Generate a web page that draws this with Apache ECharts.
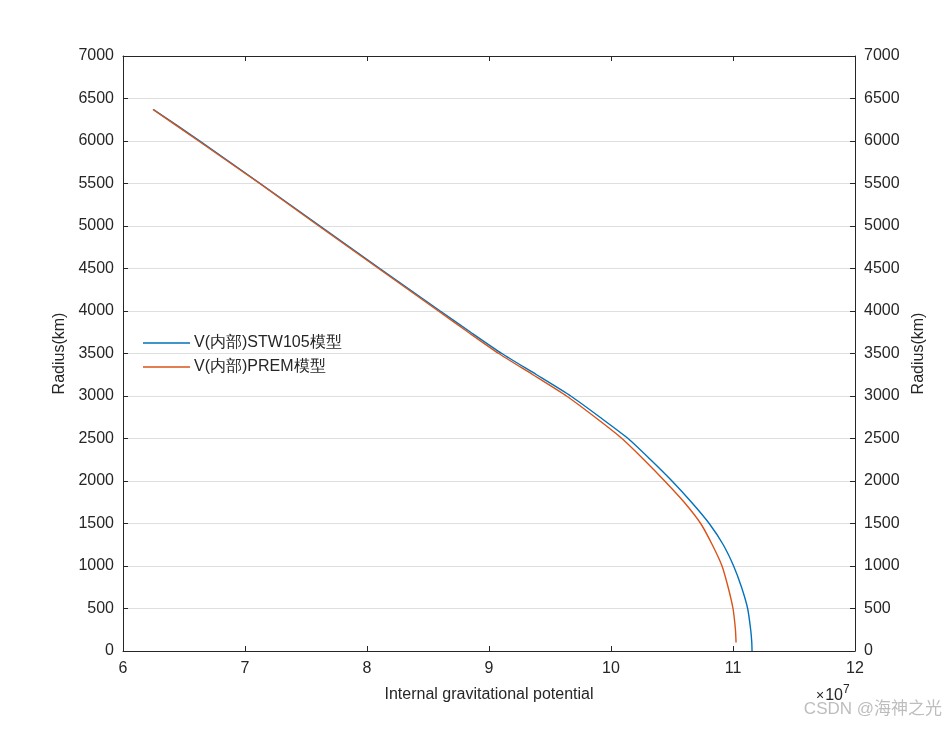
<!DOCTYPE html>
<html>
<head>
<meta charset="utf-8">
<title>Internal gravitational potential</title>
<script src="https://cdn.jsdelivr.net/npm/echarts@6/dist/echarts.min.js"></script>
<style>
    html, body { margin: 0; padding: 0; background: #fff; }
    #chart { width: 945px; height: 732px; }
</style>
</head>
<body>
<div id="chart"></div>
<script>
// radius (km) and potential (x 1e7)
var stwRadius = [0, 100, 250, 500, 750, 1000, 1250, 1500, 1750, 2000, 2250, 2500, 2750, 3000, 3250, 3500, 3750, 4000, 4500, 5000, 5500, 6000, 6371];
var stwValue  = [11.156, 11.154, 11.145, 11.12, 11.07, 11.005, 10.92, 10.805, 10.66, 10.50, 10.325, 10.14, 9.91, 9.67, 9.39, 9.105, 8.85, 8.60, 8.105, 7.615, 7.125, 6.63, 6.25];

var premRadius = [100, 250, 500, 750, 1000, 1250, 1500, 1750, 2000, 2250, 2500, 2750, 3000, 3250, 3500, 3750, 4000, 4500, 5000, 5500, 6000, 6371];
var premValue  = [11.025, 11.02, 11.0, 10.96, 10.91, 10.83, 10.735, 10.60, 10.44, 10.27, 10.09, 9.87, 9.635, 9.36, 9.08, 8.83, 8.585, 8.095, 7.605, 7.12, 6.62, 6.245];

var seriesNames = ['V(内部)STW105模型', 'V(内部)PREM模型'];
var xTicks = [6, 7, 8, 9, 10, 11, 12];
var yTicks = [0, 500, 1000, 1500, 2000, 2500, 3000, 3500, 4000, 4500, 5000, 5500, 6000, 6500, 7000];

function pairs(xs, rs) {
    var out = [];
    for (var i = 0; i < rs.length; i++) {
        out.push([xs[i], rs[i]]);
    }
    return out;
}

var font = '"Liberation Sans", Arial, sans-serif';
var axisColor = '#262626';

var yAxisBase = {
    type: 'value',
    min: yTicks[0],
    max: yTicks[yTicks.length - 1],
    interval: 500,
    name: 'Radius(km)',
    nameLocation: 'middle',
    nameTextStyle: { fontFamily: font, fontSize: 16, color: axisColor },
    axisLine: { show: true, lineStyle: { color: axisColor, width: 1 } },
    axisTick: { show: true, inside: true, length: 5, lineStyle: { color: axisColor } },
    axisLabel: {
        fontFamily: font, fontSize: 16, color: axisColor, margin: 9,
        formatter: function (v) { return String(v); }
    }
};

var chart = echarts.init(document.getElementById('chart'));

var option = {
    animation: false,
    backgroundColor: '#fff',
    grid: { left: 123, right: 90, top: 56, bottom: 81, containLabel: false },
    legend: {
        orient: 'vertical',
        left: 138,
        top: 330,
        itemWidth: 47,
        itemHeight: 1.4,
        itemGap: 8,
        icon: 'rect',
        data: seriesNames,
        textStyle: { fontFamily: font, fontSize: 16, color: axisColor, padding: [0, 0, 0, -1] }
    },
    xAxis: [
        {
            type: 'value',
            min: xTicks[0],
            max: xTicks[xTicks.length - 1],
            interval: 1,
            position: 'bottom',
            name: 'Internal gravitational potential',
            nameLocation: 'middle',
            nameGap: 36,
            nameTextStyle: { fontFamily: font, fontSize: 16, color: axisColor },
            axisLine: { show: true, onZero: false, lineStyle: { color: axisColor } },
            axisTick: { show: true, inside: true, length: 5, lineStyle: { color: axisColor } },
            axisLabel: { fontFamily: font, fontSize: 16, color: axisColor, margin: 10 },
            splitLine: { show: false }
        },
        {
            type: 'value',
            min: xTicks[0],
            max: xTicks[xTicks.length - 1],
            interval: 1,
            position: 'top',
            axisLine: { show: true, onZero: false, lineStyle: { color: axisColor } },
            axisTick: { show: true, inside: true, length: 5, lineStyle: { color: axisColor } },
            axisLabel: { show: false },
            splitLine: { show: false }
        }
    ],
    yAxis: [
        Object.assign({}, yAxisBase, {
            position: 'left',
            nameGap: 47,
            splitLine: { show: true, lineStyle: { color: '#dfdfdf', width: 1 } }
        }),
        Object.assign({}, yAxisBase, {
            position: 'right',
            nameGap: 53,
            splitLine: { show: false }
        })
    ],
    series: [
        {
            name: seriesNames[0],
            type: 'line',
            xAxisIndex: 0,
            yAxisIndex: 0,
            data: pairs(stwValue, stwRadius),
            showSymbol: false,
            smooth: 0.2,
            color: '#0072BD',
            lineStyle: { width: 1.4, color: '#0072BD' }
        },
        {
            name: seriesNames[1],
            type: 'line',
            xAxisIndex: 0,
            yAxisIndex: 0,
            data: pairs(premValue, premRadius),
            showSymbol: false,
            smooth: 0.2,
            color: '#D95319',
            lineStyle: { width: 1.4, color: '#D95319' }
        }
    ],
    graphic: [
        {
            type: 'text',
            left: 816,
            top: 684,
            style: {
                text: '{x|×}{b|10}{s|7}',
                rich: {
                    x: { fontFamily: font, fontSize: 14, fill: axisColor, padding: [4, 1, 0, 0] },
                    b: { fontFamily: font, fontSize: 16, fill: axisColor, padding: [4, 0, 0, 0] },
                    s: { fontFamily: font, fontSize: 12, fill: axisColor, padding: [0, 0, 8, 0] }
                }
            }
        },
        {
            type: 'text',
            right: 3,
            top: 701,
            style: {
                text: 'CSDN @海神之光',
                fontFamily: '"Liberation Sans", "Noto Sans CJK SC", sans-serif',
                fontSize: 17,
                fill: '#bdbdbd'
            }
        }
    ]
};

chart.setOption(option);

window.addEventListener('resize', function () {
    chart.resize();
});
</script>
</body>
</html>
